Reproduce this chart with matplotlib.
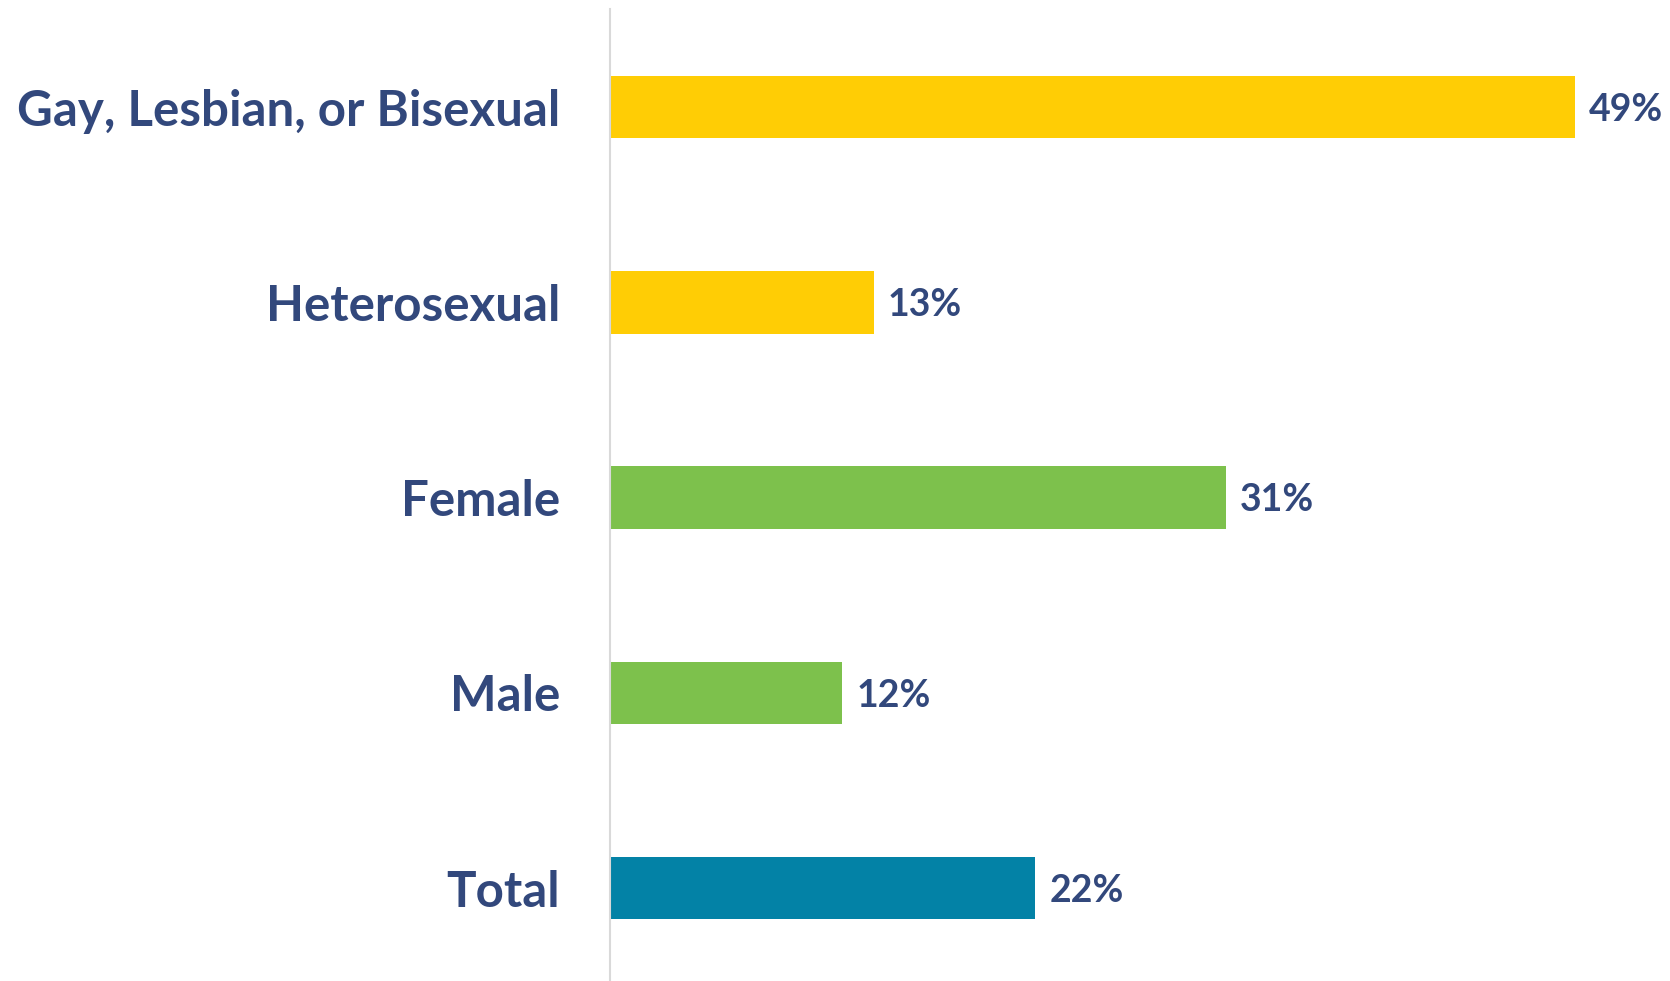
import matplotlib
matplotlib.use("Agg")
import matplotlib.pyplot as plt

# data (top to bottom as in the picture)
categories = ["Gay, Lesbian, or Bisexual", "Heterosexual", "Female", "Male", "Total"]
values = [49, 13.4, 31.3, 11.8, 21.6]
colors = ["#FFCD05", "#FFCD05", "#7DC14C", "#7DC14C", "#0382A6"]

text_col = "#32487C"

fig = plt.figure(figsize=(16.7, 9.81), dpi=100)
ax = fig.add_axes([610 / 1670, 0, 965 / 1670, 1 - 9 / 981])

ypos = list(range(len(categories)))[::-1]
bars = ax.barh(ypos, values, height=0.32, color=colors)

# percent labels right of each bar
for b, v in zip(bars, values):
    ax.annotate("{:.0f}%".format(v), (b.get_width(), b.get_y() + b.get_height() / 2),
                xytext=(10, -2), textcoords="offset points",
                ha="left", va="center", fontsize=27, fontweight="bold",
                color=text_col, family="Lato", annotation_clip=False)

ax.set_xlim(0, 49)
ax.set_ylim(-0.476, 4.502)
ax.set_yticks(ypos)
ax.set_yticklabels(categories, fontsize=35.5, fontweight="bold",
                   color=text_col, family="Lato")
ax.tick_params(axis="y", length=0, pad=36)
ax.set_xticks([])

for s in ["top", "right", "bottom"]:
    ax.spines[s].set_visible(False)
ax.spines["left"].set_color("#D9D9D9")
ax.spines["left"].set_linewidth(1.5)

fig.savefig("out.png", dpi=100)
